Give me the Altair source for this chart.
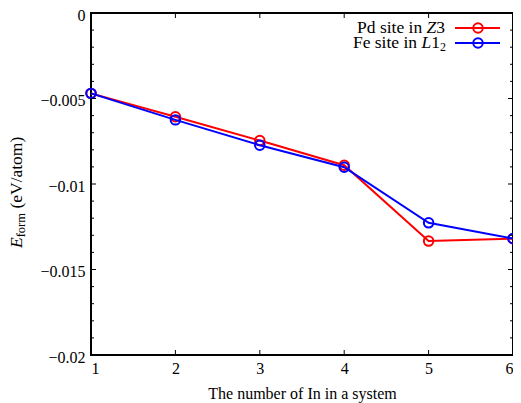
import altair as alt
import pandas as pd

# ---- data ----
x_vals = [1, 2, 3, 4, 5, 6]
pd_site = [-0.0047, -0.00607, -0.00746, -0.0089, -0.01334, -0.0132]
fe_site = [-0.0047, -0.00625, -0.00773, -0.00902, -0.01227, -0.01319]

x_major = [1, 2, 3, 4, 5, 6]
y_major = [0, -0.005, -0.01, -0.015, -0.02]
y_minor = [-0.001, -0.002, -0.003, -0.004, -0.006, -0.007, -0.008, -0.009,
           -0.011, -0.012, -0.013, -0.014, -0.016, -0.017, -0.018, -0.019]

W, H = 422, 342
FONT = "Liberation Serif"

xs = alt.Scale(domain=[1, 6], nice=False, zero=False)
ys = alt.Scale(domain=[-0.02, 0], nice=False, zero=False)

df_pd = pd.DataFrame({"x": x_vals, "y": pd_site})
df_fe = pd.DataFrame({"x": x_vals, "y": fe_site})

x_axis = alt.Axis(values=x_major, title="The number of In in a system", ticks=False,
                  domain=False, grid=False, labelFont=FONT, labelFontSize=16,
                  labelColor="black", labelPadding=5, labelOverlap=False,
                  titleFont=FONT, titleFontSize=16, titleFontWeight="normal",
                  titleColor="black", titlePadding=9, format="d")
y_axis = alt.Axis(values=y_major, title=None, ticks=False, domain=False, grid=False,
                  labelFont=FONT, labelFontSize=16, labelColor="black", labelPadding=6,
                  labelOffset=2, labelOverlap=False,
                  labelExpr="format(datum.value, '~g')")

X = alt.X("x:Q", scale=xs, axis=x_axis)
Y = alt.Y("y:Q", scale=ys, axis=y_axis)

pd_line = alt.Chart(df_pd).mark_line(color="red", strokeWidth=2).encode(x=X, y=Y)
pd_pts = alt.Chart(df_pd).mark_point(color="red", filled=False, size=90,
                                     strokeWidth=2, opacity=1).encode(x=X, y=Y)
fe_line = alt.Chart(df_fe).mark_line(color="blue", strokeWidth=2).encode(x=X, y=Y)
fe_pts = alt.Chart(df_fe).mark_point(color="blue", filled=False, size=90,
                                     strokeWidth=2, opacity=1).encode(x=X, y=Y)

# ---- inward ticks (gnuplot style), on all four sides ----
ymaj = pd.DataFrame({"y": y_major})
ymin = pd.DataFrame({"y": y_minor})
xmaj = pd.DataFrame({"x": x_major})


def ytick(df, x0, x1):
    return alt.Chart(df).mark_rule(color="black", strokeWidth=1).encode(
        y=Y, x=alt.value(x0), x2=alt.value(x1))


def xtick(df, y0, y1):
    return alt.Chart(df).mark_rule(color="black", strokeWidth=1).encode(
        x=X, y=alt.value(y0), y2=alt.value(y1))


ticks = [
    ytick(ymaj, 0, 5), ytick(ymaj, W, W - 5),
    ytick(ymin, 0, 3), ytick(ymin, W, W - 3),
    xtick(xmaj, H, H - 5), xtick(xmaj, 0, 5),
]

# ---- legend (drawn by hand to get italics and subscripts) ----
one = pd.DataFrame({"a": [0]})


def txt(text, x, y, size=17.5, style="normal", align="right", angle=0, baseline="middle"):
    kw = dict(text=text, font=FONT, fontSize=size, fontStyle=style, align=align,
              baseline=baseline, color="black")
    if angle:
        kw["angle"] = angle
    return alt.Chart(one).mark_text(**kw).encode(x=alt.value(x), y=alt.value(y))


def leg_line(color, y):
    r = alt.Chart(one).mark_rule(color=color, strokeWidth=2).encode(
        x=alt.value(364), x2=alt.value(409), y=alt.value(y))
    p = alt.Chart(one).mark_point(color=color, filled=False, size=90, strokeWidth=2,
                                  opacity=1).encode(x=alt.value(387), y=alt.value(y))
    return [r, p]


r1, r2 = 15, 30
legend = [
    txt("3", 354, r1), txt("Z", 345.3, r1, style="italic"), txt("Pd site in", 331.2, r1),
    txt("2", 355, r2 + 4, size=12), txt("1", 349, r2), txt("L", 340.2, r2, style="italic"),
    txt("Fe site in", 326.1, r2),
] + leg_line("red", r1) + leg_line("blue", r2)

# ---- y-axis title E_form (eV/atom), rotated ----
ytitle = [
    txt("E", -69.5, 235, style="italic", align="left", angle=270, baseline="alphabetic"),
    txt("form", -66, 224.3, size=12.5, align="left", angle=270, baseline="alphabetic"),
    txt("(eV/atom)", -69.5, 195.6, align="left", angle=270, baseline="alphabetic"),
]

chart = alt.layer(pd_line, pd_pts, fe_line, fe_pts, *ticks, *legend, *ytitle).properties(
    width=W, height=H,
    autosize=alt.AutoSizeParams(type="none"),
    padding={"left": 83, "top": 5, "right": 0, "bottom": 48},
).configure_view(stroke="black", strokeWidth=2)

chart.save("out.html", embed_options={"renderer": "svg", "actions": False})
